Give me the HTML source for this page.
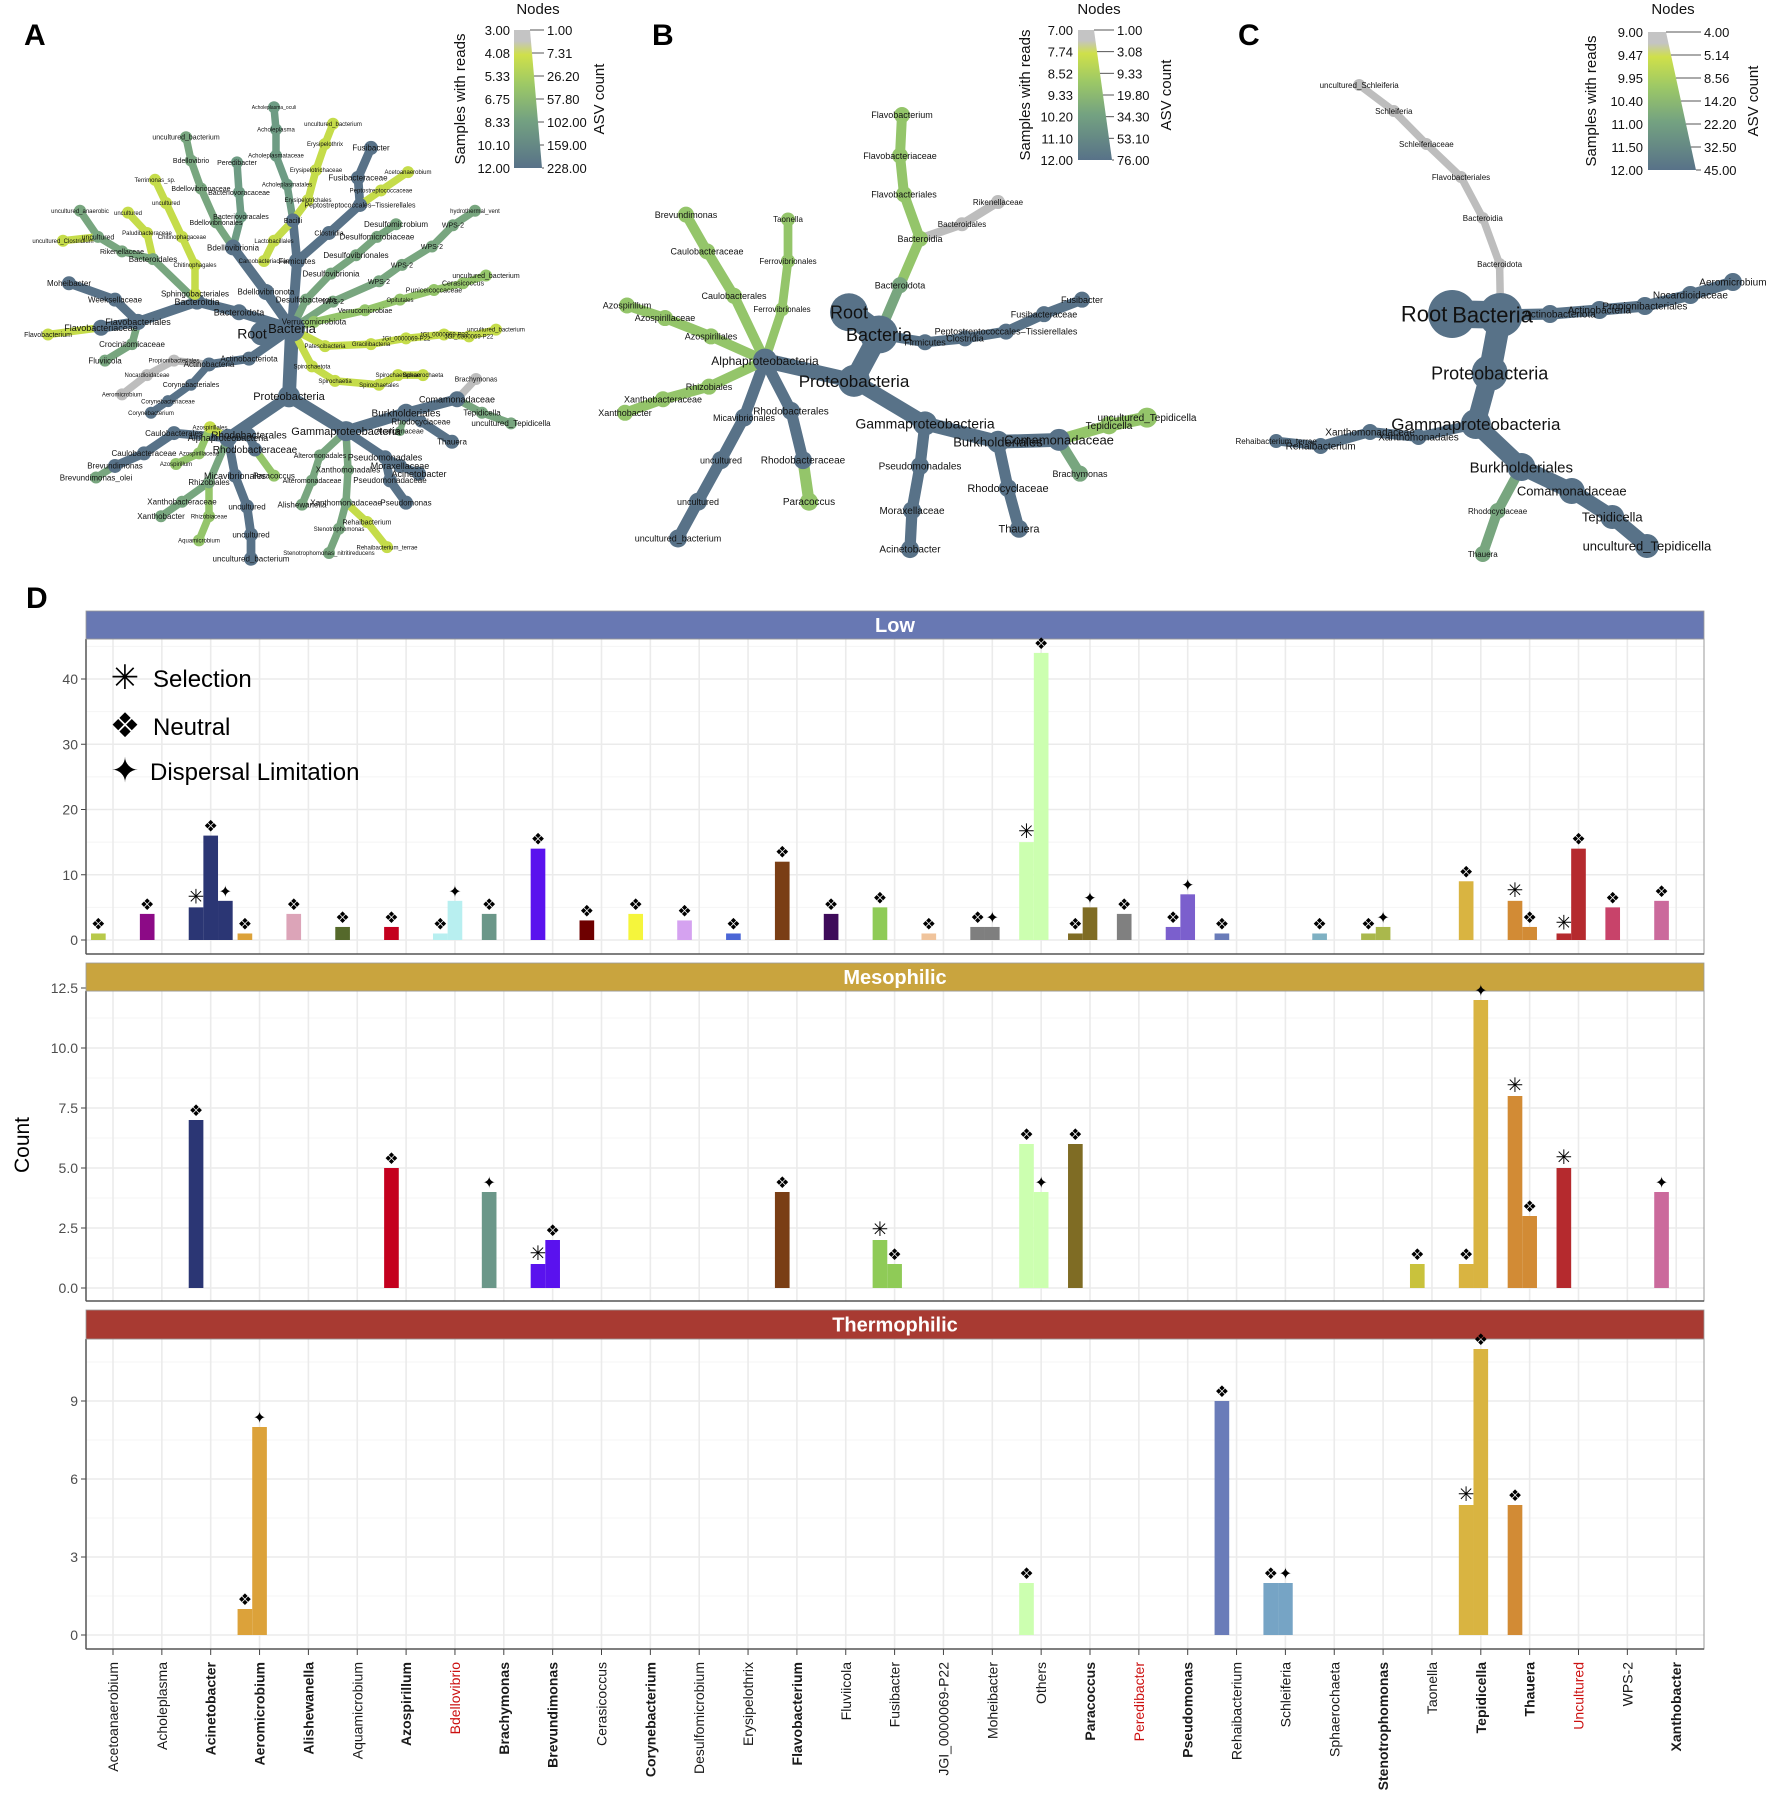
<!DOCTYPE html>
<html><head><meta charset="utf-8"><title>Figure</title>
<style>
html,body{margin:0;padding:0;background:#fff;}
svg{display:block;font-family:"Liberation Sans",Arial,sans-serif;}
</style></head>
<body>
<svg id="fig" width="1772" height="1807" viewBox="0 0 1772 1807" xmlns="http://www.w3.org/2000/svg">
<rect width="1772" height="1807" fill="#fff"/>
<g id="trees"></g>
<g id="legends"></g>
<g id="chartD"></g>
<text x="24" y="45" font-size="30" font-weight="bold">A</text>
<text x="652" y="45" font-size="30" font-weight="bold">B</text>
<text x="1238" y="45" font-size="30" font-weight="bold">C</text>
<text x="26" y="608" font-size="30" font-weight="bold">D</text>
</svg>
<script>
// ---------- Panel D data ----------
const genera = ["Acetoanaerobium","Acholeplasma","Acinetobacter","Aeromicrobium","Alishewanella","Aquamicrobium","Azospirillum","Bdellovibrio","Brachymonas","Brevundimonas","Cerasicoccus","Corynebacterium","Desulfomicrobium","Erysipelothrix","Flavobacterium","Fluviicola","Fusibacter","JGI_0000069-P22","Moheibacter","Others","Paracoccus","Peredibacter","Pseudomonas","Rehaibacterium","Schleiferia","Sphaerochaeta","Stenotrophomonas","Taonella","Tepidicella","Thauera","Uncultured","WPS-2","Xanthobacter"];
const boldGenera = ["Acinetobacter","Aeromicrobium","Alishewanella","Azospirillum","Brachymonas","Brevundimonas","Corynebacterium","Flavobacterium","Paracoccus","Pseudomonas","Stenotrophomonas","Tepidicella","Thauera","Xanthobacter"];
const redGenera = ["Bdellovibrio","Peredibacter","Uncultured"];
const genusColors = ["#b8c94a","#8c0a86","#2b3674","#dca23a","#dca4b8","#55692b","#c4001e","#b8eff0","#6b9789","#5a12ee","#6e0000","#f5f53c","#d5a2f0","#4b66d6","#7a3e15","#3e0b5a","#8fcb57","#f0c49c","#7f7f7f","#ccffb0","#7f6c24","#808080","#7b5fcd","#6a7cb9","#76a4c5","#7fb1c3","#aab84c","#c9c23c","#d9b441","#d28b35","#b52a2e","#c8436a","#cb6a9c"];
const processTypes = ["Selection","Neutral","Dispersal Limitation"];
const processSymbols = ["\u2733","\u2756","\u2726"];

const lowGenus = ["Acetoanaerobium","Acholeplasma","Acinetobacter","Acinetobacter","Acinetobacter","Aeromicrobium","Alishewanella","Aquamicrobium","Azospirillum","Bdellovibrio","Bdellovibrio","Brachymonas","Brevundimonas","Cerasicoccus","Corynebacterium","Desulfomicrobium","Erysipelothrix","Flavobacterium","Fluviicola","Fusibacter","JGI_0000069-P22","Moheibacter","Moheibacter","Others","Others","Paracoccus","Paracoccus","Peredibacter","Pseudomonas","Pseudomonas","Rehaibacterium","Sphaerochaeta","Stenotrophomonas","Stenotrophomonas","Tepidicella","Thauera","Thauera","Uncultured","Uncultured","WPS-2","Xanthobacter"];
const lowType = [1,1,0,1,2,1,1,1,1,1,2,1,1,1,1,1,1,1,1,1,1,1,2,0,1,1,2,1,1,2,1,1,1,2,1,0,1,0,1,1,1];
const lowCount = [1,4,5,16,6,1,4,2,2,1,6,4,14,3,4,3,1,12,4,5,1,2,2,15,44,1,5,4,2,7,1,1,1,2,9,6,2,1,14,5,6];

const mesoGenus = ["Acinetobacter","Azospirillum","Brachymonas","Brevundimonas","Brevundimonas","Flavobacterium","Fusibacter","Fusibacter","Others","Others","Paracoccus","Taonella","Tepidicella","Tepidicella","Thauera","Thauera","Uncultured","Xanthobacter"];
const mesoType = [1,1,2,0,1,1,0,1,1,2,1,1,1,2,0,1,0,2];
const mesoCount = [7,5,4,1,2,4,2,1,6,4,6,1,1,12,8,3,5,4];

const thermoGenus = ["Aeromicrobium","Aeromicrobium","Others","Rehaibacterium","Schleiferia","Schleiferia","Tepidicella","Tepidicella","Thauera"];
const thermoType = [1,2,1,1,1,2,0,1,1];
const thermoCount = [1,8,2,9,2,2,5,11,5];

const lowTicks = [0,10,20,30,40];
const mesoTicks = [0,2.5,5,7.5,10,12.5];
const thermoTicks = [0,3,6,9];

// ---------- Tree data (id,label,x,y,parent,color,r,fontsize[,labelDx]) ----------
const treeA = `R,Root,262,345,-,N,12,14,-10
B,Bacteria,292,340,R,N,13,13
P,Proteobacteria,289,410,B,N,11,11
GA,Gammaproteobacteria,346,446,P,N,10,11
AL,Alphaproteobacteria,228,453,P,N,9,9
BU,Burkholderiales,406,427,GA,N,9,10
CO,Comamonadaceae,457,413,BU,N,8,9
BR,Brachymonas,476,392,CO,Gr,6,7
TE,Tepidicella,482,427,CO,G,6,8
UT,uncultured_Tepidicella,511,438,TE,G,6,8
RC,Rhodocyclaceae,421,436,BU,N,6,8
TH,Thauera,452,457,RC,N,7,8
AC,Alcaligenaceae,400,446,BU,G,5,7
PS,Pseudomonadales,385,473,GA,N,7,9
MO,Moraxellaceae,400,482,PS,N,7,9
AB,Acinetobacter,419,490,MO,N,7,9
PD,Pseudomonadaceae,390,497,PS,N,7,8
PM,Pseudomonas,406,520,PD,N,7,8
XO,Xanthomonadales,348,486,GA,G,6,8
XC,Xanthomonadaceae,346,520,XO,G,6,8
RH,Rehaibacterium,367,540,XC,Y,6,7
RT,Rehaibacterium_terrae,387,566,RH,Y,6,6
SN,Stenotrophomonas,339,547,XC,G,6,6
SNN,Stenotrophomonas_nitritireducens,329,572,SN,G,6,6
AT,Alteromonadales,320,471,GA,G,6,7
ATC,Alteromonadaceae,312,497,AT,G,6,7
ALI,Alishewanella,302,522,ATC,G,6,8
RBL,Rhodobacterales,249,450,AL,N,7,10
RBC,Rhodobacteraceae,255,465,RBL,N,7,10
PAR,Paracoccus,274,492,RBC,L,6,8
MIC,Micavibrionales,235,492,AL,N,7,9
U1,uncultured,247,524,MIC,N,7,8
U2,uncultured,251,553,U1,N,7,8
U3,uncultured_bacterium,251,578,U2,N,7,8
RZ,Rhizobiales,209,499,AL,G,6,8
XB,Xanthobacteraceae,182,519,RZ,G,6,8
XN,Xanthobacter,161,534,XB,G,6,8
RZC,Rhizobiaceae,209,534,RZ,L,6,6
AQ,Aquamicrobium,199,559,RZC,L,6,6
CL,Caulobacterales,174,448,AL,N,7,8
CC,Caulobacteraceae,144,469,CL,N,7,8
BV,Brevundimonas,115,482,CC,N,7,8
BVO,Brevundimonas_olei,96,494,BV,G,6,8
AZ,Azospirillales,210,442,AL,Y,6,6
AZC,Azospirillaceae,199,469,AZ,L,6,6
AZM,Azospirillum,176,480,AZC,L,6,6
BD,Bacteroidota,239,323,B,N,8,9
BI,Bacteroidia,197,312,BD,N,8,9
FL,Flavobacteriales,138,333,BI,N,8,9
FC,Flavobacteriaceae,101,339,FL,N,8,9
FB,Flavobacterium,48,346,FC,Y,6,7
CR,Crocinitomicaceae,132,356,FL,G,6,8
FV,Fluviicola,105,373,CR,G,6,8
WE,Weeksellaceae,115,310,FL,N,7,8
MH,Moheibacter,69,293,WE,N,7,8
SP,Sphingobacteriales,195,304,BI,Y,6,8
CH,Chitinophagales,195,274,SP,Y,6,6
CHC,Chitinophagaceae,182,245,CH,Y,6,6
UC1,uncultured,166,210,CHC,Y,6,6
TR,Terrimonas_sp.,155,186,UC1,Y,6,6
BA,Bacteroidales,153,268,BI,G,6,8
PL,Paludibacteraceae,147,241,BA,Y,6,6
UC2,uncultured,128,220,PL,Y,6,6
RK,Rikenellaceae,122,260,BA,G,6,7
UC3,uncultured,98,245,RK,G,6,7
UA,uncultured_anaerobic,80,218,UC3,G,6,6
UCL,uncultured_Clostridium,63,249,UC3,Y,6,6
BDN,Bdellovibrionota,266,302,B,N,8,8
BDI,Bdellovibrionia,233,256,BDN,N,8,8
BDL,Bdellovibrionales,216,230,BDI,G,6,7
BDC,Bdellovibrionaceae,201,195,BDL,G,6,7
BDV,Bdellovibrio,191,166,BDC,G,6,7
UB1,uncultured_bacterium,186,142,BDV,G,6,7
BVL,Bacteriovoracales,241,224,BDI,T,6,7
BVC,Bacteriovoracaceae,239,199,BVL,T,6,7
PER,Peredibacter,237,168,BVC,T,6,7
FI,Firmicutes,297,270,B,N,8,8
BAC,Bacilli,293,228,FI,N,7,7
ACL,Acholeplasmatales,287,191,BAC,T,6,6
ACC,Acholeplasmataceae,276,161,ACL,T,6,6
ACH,Acholeplasma,276,134,ACC,T,6,6
ACO,Acholeplasma_oculi,274,111,ACH,T,6,5
LB,Lactobacillales,274,249,BAC,Y,6,6
CB,Carnobacteriaceae,264,270,LB,Y,6,6
ERL,Erysipelotrichales,308,207,BAC,Y,6,6
ERC,Erysipelotrichaceae,316,176,ERL,Y,6,6
ERX,Erysipelothrix,325,149,ERC,Y,6,6
UB2,uncultured_bacterium,333,128,ERX,Y,6,6
CLO,Clostridia,329,241,FI,N,7,7
PT,Peptostreptococcales–Tissierellales,360,212,CLO,N,7,7
FSC,Fusibacteraceae,358,184,PT,N,7,8
FS,Fusibacter,371,153,FSC,N,7,8
PTC,Peptostreptococcaceae,381,197,PT,Y,6,6
ACE,Acetoanaerobium,408,178,PTC,Y,6,6
DB,Desulfobacterota,306,310,B,G,6,8
DV,Desulfovibrionia,331,283,DB,G,6,8
DVL,Desulfovibrionales,356,264,DV,G,6,8
DMC,Desulfomicrobiaceae,377,245,DVL,G,6,8
DM,Desulfomicrobium,396,232,DMC,G,6,8
W1,WPS-2,333,312,B,G,6,7
W2,WPS-2,379,291,W1,G,6,7
W3,WPS-2,402,274,W2,G,6,7
W4,WPS-2,432,255,W3,G,6,7
W5,WPS-2,453,233,W4,G,6,7
HV,hydrothermal_vent,475,218,W5,G,6,6
VM,Verrucomicrobiota,314,333,B,L,6,8
VE,Verrucomicrobiae,365,321,VM,L,6,7
OP,Opitutales,400,310,VE,L,6,6
PU,Puniceicoccaceae,434,300,OP,L,6,7
CE,Cerasicoccus,463,293,PU,L,6,7
UB3,uncultured_bacterium,486,285,CE,L,6,7
PA,Patescibacteria,325,358,B,Y,6,6
GR,Gracilibacteria,371,356,PA,Y,6,6
J1,JGI_0000069-P22,406,350,GR,Y,6,6
J2,JGI_0000069-P22,444,346,J1,Y,6,6
J3,JGI_0000069-P22,469,348,J2,Y,6,6
UB4,uncultured_bacterium,496,341,J3,Y,6,6
SPT,Spirochaetota,312,379,B,Y,6,6
SPA,Spirochaetia,335,394,SPT,Y,6,6
SPL,Spirochaetales,379,398,SPA,Y,6,6
SPC,Spirochaetaceae,398,388,SPL,Y,6,6
SPH,Sphaerochaeta,423,388,SPC,Y,6,6
AO,Actinobacteriota,249,371,B,N,7,8
AN,Actinobacteria,209,377,AO,N,7,8
PR,Propionibacteriales,174,373,AN,Gr,6,6
NC,Nocardioidaceae,147,388,PR,Gr,6,6
AER,Aeromicrobium,122,408,NC,Gr,6,6
CY,Corynebacteriales,191,398,AN,N,6,7
CYC,Corynebacteriaceae,168,415,CY,N,6,6
CYB,Corynebacterium,151,427,CYC,N,6,6`;

const treeB = `R,Root,849,323,-,N,19,18
B,Bacteria,879,346,R,N,19,18
P,Proteobacteria,854,394,B,N,16,17
AL,Alphaproteobacteria,765,373,P,N,12,12
GA,Gammaproteobacteria,925,438,P,N,12,14
BU,Burkholderiales,998,457,GA,N,11,13
CO,Comamonadaceae,1059,455,BU,N,11,13
TE,Tepidicella,1109,440,CO,L,9,10
UT,uncultured_Tepidicella,1147,432,TE,L,10,10
BRA,Brachymonas,1080,490,CO,G,8,9
RC,Rhodocyclaceae,1008,505,BU,N,9,11
TH,Thauera,1019,547,RC,N,9,11
PS,Pseudomonadales,920,482,GA,N,9,10
MO,Moraxellaceae,912,528,PS,N,9,10
AB,Acinetobacter,910,568,MO,N,9,10
RBL,Rhodobacterales,791,425,AL,N,9,10
RBC,Rhodobacteraceae,803,476,RBL,N,9,10
PAR,Paracoccus,809,519,RBC,L,9,10
MIC,Micavibrionales,744,432,AL,N,9,9
U1,uncultured,721,476,MIC,N,9,9
U2,uncultured,698,519,U1,N,9,9
U3,uncultured_bacterium,678,557,U2,N,9,9
RZ,Rhizobiales,709,400,AL,L,8,9
XB,Xanthobacteraceae,663,413,RZ,L,8,9
XN,Xanthobacter,625,427,XB,L,8,9
AZ,Azospirillales,711,348,AL,L,8,9
AZC,Azospirillaceae,665,329,AZ,L,8,9
AZM,Azospirillum,627,316,AZC,L,8,9
CL,Caulobacterales,734,306,AL,L,8,9
CC,Caulobacteraceae,707,260,CL,L,8,9
BV,Brevundimonas,686,222,CC,L,8,9
FE1,Ferrovibrionales,782,320,AL,L,7,8
FE2,Ferrovibrionales,788,270,FE1,L,7,8
TA,Taonella,788,227,FE2,L,7,8
BD,Bacteroidota,900,295,B,G,8,9
BI,Bacteroidia,920,247,BD,L,8,9
FL,Flavobacteriales,904,201,BI,L,8,9
FC,Flavobacteriaceae,900,161,FL,L,8,9
FB,Flavobacterium,902,119,FC,L,8,9
BA,Bacteroidales,962,232,BI,Gr,7,8
RK,Rikenellaceae,998,209,BA,Gr,7,8
FI,Firmicutes,925,354,B,N,8,9
CLO,Clostridia,965,350,FI,N,8,9
PT,Peptostreptococcales–Tissierellales,1006,343,CLO,N,8,9
FSC,Fusibacteraceae,1044,325,PT,N,8,9
FS,Fusibacter,1082,310,FSC,N,8,9`;

const treeC = `R,Root,1455,314,-,N,24,22,-28
B,Bacteria,1504,315,R,N,22,22,-8
P,Proteobacteria,1493,373,B,N,18,18
GA,Gammaproteobacteria,1479,424,P,N,15,17
XO,Xanthomonadales,1421,437,GA,N,8,10
XC,Xanthomonadaceae,1372,432,XO,N,8,10
RH,Rehaibacterium,1322,446,XC,N,8,10
RT,Rehaibacterium_terrae,1277,441,RH,N,7,8
BU,Burkholderiales,1525,467,GA,N,14,15
CO,Comamonadaceae,1576,491,BU,N,13,13
TE,Tepidicella,1617,517,CO,N,12,13
UT,uncultured_Tepidicella,1652,546,TE,N,12,13
RC,Rhodocyclaceae,1501,511,BU,G,8,8
TH,Thauera,1486,554,RC,G,8,8
AO,Actinobacteriota,1554,314,B,N,9,10,10
AN,Actinobacteria,1604,310,AO,N,9,10
PR,Propionibacteriales,1650,306,AN,N,9,10
NC,Nocardioidaceae,1696,295,PR,N,9,10
AER,Aeromicrobium,1739,282,NC,N,9,10
BD,Bacteroidota,1503,264,B,Gr,6,8
BI,Bacteroidia,1486,218,BD,Gr,6,8
FL,Flavobacteriales,1464,177,BI,Gr,6,8
SC,Schleiferiaceae,1429,144,FL,Gr,6,8
SF,Schleiferia,1396,111,SC,Gr,6,8
US,uncultured_Schleiferia,1361,85,SF,Gr,6,8`;

const legendA = {left:["3.00","4.08","5.33","6.75","8.33","10.10","12.00"], right:["1.00","7.31","26.20","57.80","102.00","159.00","228.00"]};
const legendB = {left:["7.00","7.74","8.52","9.33","10.20","11.10","12.00"], right:["1.00","3.08","9.33","19.80","34.30","53.10","76.00"]};
const legendC = {left:["9.00","9.47","9.95","10.40","11.00","11.50","12.00"], right:["4.00","5.14","8.56","14.20","22.20","32.50","45.00"]};

// ---------- helpers ----------
const NS = "http://www.w3.org/2000/svg";
function mk(tag, attrs, parent, txt){
  const e = document.createElementNS(NS, tag);
  for (const k in attrs) e.setAttribute(k, attrs[k]);
  if (txt !== undefined) e.textContent = txt;
  parent.appendChild(e);
  return e;
}
const COL = {N:"#587288", G:"#78a67f", L:"#94c56a", Y:"#c5dc4a", Gr:"#bdbdbd", T:"#6e9c84"};

// ---------- trees ----------
function drawTree(src, fx, fy, key){
  const g = mk("g", {}, document.getElementById("trees"));
  
  
  const nodes = {};
  const list = src.trim().split("\n").map(l => {
    const p = l.split(",");
    const n = {id:p[0], label:p[1], x:fx(+p[2]), y:fy(+p[3]), parent:p[4], c:COL[p[5]], r:+p[6], fs:+p[7], dx:p[8]?+p[8]:0};
    nodes[n.id] = n; return n;
  });
  const eg = mk("g", {}, g);
  list.forEach(n => {
    if (n.parent === "-") return;
    const pa = nodes[n.parent];
    const ln = mk("line", {x1:pa.x, y1:pa.y, x2:n.x, y2:n.y, stroke:n.c, "stroke-width":Math.max(5, n.r*1.25), "stroke-linecap":"round"}, eg);
    
    
  });
  const ng = mk("g", {}, g);
  list.forEach(n => {
    const c = mk("circle", {cx:n.x, cy:n.y, r:n.r, fill:n.c}, ng);
    
    
  });
  const tg = mk("g", {}, g);
  list.forEach(n => {
    const t = mk("text", {x:n.x + n.dx, y:n.y + n.fs*0.35, "font-size":n.fs, "text-anchor":"middle", fill:"#111"}, tg, n.label);
    
    
  });
}
drawTree(treeA, x => x, y => y*0.9667, "a");
drawTree(treeB, x => x, y => y*0.9667, "b");
drawTree(treeC, x => 1200 + (x-1200)*0.9887, y => y, "c");

// ---------- legends ----------
const defs = mk("defs", {}, document.getElementById("fig"));
const grad = mk("linearGradient", {id:"ng", x1:0, y1:0, x2:0, y2:1}, defs);
[["0","#c4c4c4"],["0.08","#c4c4c4"],["0.18","#cfe04a"],["0.4","#9cc866"],["0.65","#74a281"],["1","#587288"]].forEach(s => mk("stop", {offset:s[0], "stop-color":s[1]}, grad));
function drawLegend(L, x0, top, bot, wTop, wBot, leftX, rightX, nodesX, samplesX, asvX, key){
  const g = mk("g", {}, document.getElementById("legends"));
  
  
  mk("polygon", {points:`${x0},${top} ${x0+wTop},${top} ${x0+wBot},${bot} ${x0},${bot}`, fill:"url(#ng)"}, g);
  const n = L.left.length;
  for (let i=0;i<n;i++){
    const y = top + (bot-top)*i/(n-1);
    const edge = x0 + wTop + (wBot-wTop)*i/(n-1);
    mk("line", {x1:edge, y1:y, x2:rightX-3, y2:y, stroke:"#555", "stroke-width":1}, g);
    const lt = mk("text", {x:leftX, y:y+5, "font-size":13, "text-anchor":"end", fill:"#111"}, g, L.left[i]);
    
    
    const rt = mk("text", {x:rightX, y:y+5, "font-size":13, "text-anchor":"start", fill:"#111"}, g, L.right[i]);
    
    
  }
  mk("text", {x:nodesX, y:14, "font-size":15, "text-anchor":"middle", fill:"#111"}, g, "Nodes");
  mk("text", {x:0, y:0, "font-size":15, "text-anchor":"middle", fill:"#111", transform:`translate(${samplesX},${(top+bot)/2}) rotate(-90)`}, g, "Samples with reads");
  mk("text", {x:0, y:0, "font-size":15, "text-anchor":"middle", fill:"#111", transform:`translate(${asvX},${(top+bot)/2}) rotate(-90)`}, g, "ASV count");
}
drawLegend(legendA, 514, 30, 168, 16, 28, 510, 547, 538, 465, 604, "a");
drawLegend(legendB, 1078, 30, 160, 16, 34, 1073, 1117, 1099, 1030, 1171, "b");
drawLegend(legendC, 1648, 32, 170, 18, 48, 1643, 1704, 1673, 1596, 1758, "c");

// ---------- Panel D ----------
const D = document.getElementById("chartD");
const PX0 = 86, PX1 = 1704;
const catStep = 48.85, cat0 = 113, barW = 14.65;
function xCat(i){ return cat0 + i*catStep; }
const facets = [
  {name:"Low", strip:[611,639], panel:[639,954], y0:940, ppu:6.525, ticks:lowTicks, fmt:v=>String(v), color:"#6878b3", g:lowGenus, t:lowType, v:lowCount, legend:true},
  {name:"Mesophilic", strip:[963,991], panel:[991,1301], y0:1288, ppu:24, ticks:mesoTicks, fmt:v=>v.toFixed(1), color:"#c9a43e", g:mesoGenus, t:mesoType, v:mesoCount},
  {name:"Thermophilic", strip:[1310,1339], panel:[1339,1649], y0:1635, ppu:26, ticks:thermoTicks, fmt:v=>String(v), color:"#a83a32", g:thermoGenus, t:thermoType, v:thermoCount}
];
facets.forEach(f => {
  const g = mk("g", {}, D);
  
  
  const yS = v => f.y0 - v*f.ppu;
  mk("rect", {x:PX0, y:f.panel[0], width:PX1-PX0, height:f.panel[1]-f.panel[0], fill:"#fff"}, g);
  const step = f.ticks[1]-f.ticks[0];
  for (let v = f.ticks[0]+step/2; yS(v) > f.panel[0]; v += step)
    mk("line", {x1:PX0, x2:PX1, y1:yS(v), y2:yS(v), stroke:"#f4f4f4", "stroke-width":1}, g);
  f.ticks.forEach(v => {
    mk("line", {x1:PX0, x2:PX1, y1:yS(v), y2:yS(v), stroke:"#ebebeb", "stroke-width":1.6}, g);
    mk("line", {x1:PX0-5, x2:PX0, y1:yS(v), y2:yS(v), stroke:"#444", "stroke-width":1}, g);
    const tl = mk("text", {x:PX0-8, y:yS(v)+5, "font-size":14, "text-anchor":"end", fill:"#4d4d4d"}, g, f.fmt(v));
    
    
  });
  genera.forEach((nm,i) => mk("line", {x1:xCat(i), x2:xCat(i), y1:f.panel[0], y2:f.panel[1], stroke:"#ebebeb", "stroke-width":1.6}, g));
  mk("rect", {x:PX0, y:f.panel[0], width:PX1-PX0, height:f.panel[1]-f.panel[0], fill:"none", stroke:"#9a9a9a", "stroke-width":1}, g);
  mk("line", {x1:PX0, x2:PX0, y1:f.panel[0], y2:f.panel[1], stroke:"#555", "stroke-width":1.5}, g);
  mk("line", {x1:PX0, x2:PX1, y1:f.panel[1], y2:f.panel[1], stroke:"#555", "stroke-width":1.5}, g);
  const st = mk("rect", {x:PX0, y:f.strip[0], width:PX1-PX0, height:f.strip[1]-f.strip[0], fill:f.color, stroke:"#999", "stroke-width":0.8}, g);
  
  
  const stt = mk("text", {x:(PX0+PX1)/2, y:(f.strip[0]+f.strip[1])/2+7, "font-size":20, "font-weight":"bold", fill:"#fff", "text-anchor":"middle"}, g, f.name);
  
  
  const slotCount = {};
  f.g.forEach((gn, k) => {
    const ci = genera.indexOf(gn);
    const slot = slotCount[gn] || 0; slotCount[gn] = slot + 1;
    const cx = xCat(ci) + (slot-1)*barW;
    const top = yS(f.v[k]);
    const bar = mk("rect", {x:cx-barW/2, y:top, width:barW, height:f.y0-top, fill:genusColors[ci]}, g);
    
    
    const mkTxt = mk("text", {x:cx, y:top-4, "font-size":f.t[k]===0?20:16, "text-anchor":"middle", fill:"#000", "font-family":"DejaVu Sans, sans-serif"}, g, processSymbols[f.t[k]]);
    
    
  });
  if (f.legend){
    const lg = mk("g", {}, g);
    
    
    const ys = [678, 726, 771];
    processTypes.forEach((pt, i) => {
      const sy = mk("text", {x:125, y:ys[i]+11, "font-size":34, "text-anchor":"middle", fill:"#000", "font-family":"DejaVu Sans, sans-serif"}, lg, processSymbols[i]);
      
      
      const lt = mk("text", {x:i===2?150:153, y:ys[i]+9, "font-size":24, fill:"#000"}, lg, pt);
      
      
    });
  }
});
const xg = mk("g", {}, D);


genera.forEach((nm, i) => {
  const x = xCat(i);
  mk("line", {x1:x, x2:x, y1:1649, y2:1655, stroke:"#444", "stroke-width":1}, xg);
  const t = mk("text", {x:0, y:0, "font-size":14, "text-anchor":"end", fill:redGenera.includes(nm)?"#cc1010":"#1a1a1a", "font-weight":boldGenera.includes(nm)?"bold":"normal", transform:`translate(${x+5},1662) rotate(-90)`}, xg, nm);
  
  
});
const yt = mk("text", {x:0, y:0, "font-size":21, "text-anchor":"middle", fill:"#000", transform:"translate(29,1145) rotate(-90)"}, D, "Count");


</script>
</body></html>
